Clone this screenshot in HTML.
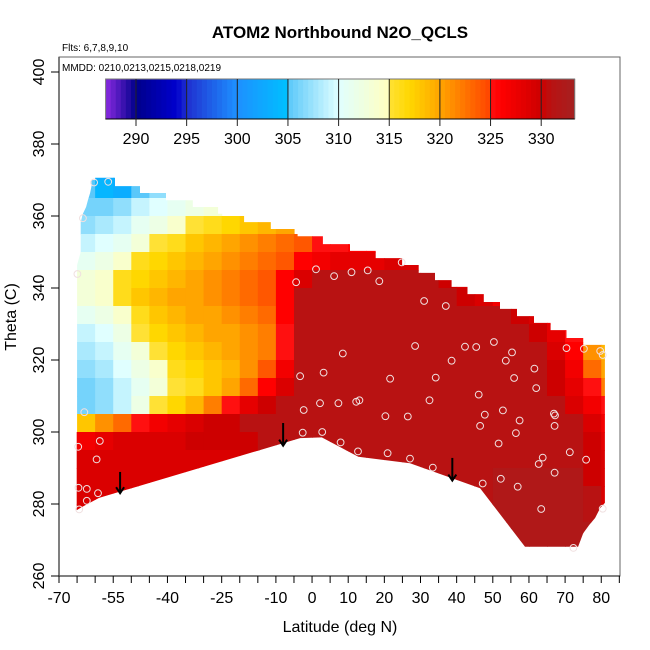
<!DOCTYPE html>
<html><head><meta charset="utf-8"><style>
html,body{margin:0;padding:0;background:#fff}
svg{display:block;font-family:"Liberation Sans",Arial,sans-serif}
</style></head><body>
<svg id="chart" width="650" height="650" viewBox="0 0 650 650">
<rect width="650" height="650" fill="#fff"/>
<text x="340" y="38" font-size="17" font-weight="bold" text-anchor="middle">ATOM2 Northbound N2O_QCLS</text>
<text x="62" y="51" font-size="10">Flts: 6,7,8,9,10</text>
<text x="62" y="71" font-size="10">MMDD: 0210,0213,0215,0218,0219</text>
<text x="340" y="632" font-size="16" text-anchor="middle">Latitude (deg N)</text>
<text transform="translate(16,317) rotate(-90)" font-size="16" text-anchor="middle">Theta (C)</text>
<defs><clipPath id="dataClip"><polygon id="clipPoly" points=""/></clipPath></defs>
<g id="cells" clip-path="url(#dataClip)"></g>
<g id="arrows"></g>
<g id="points"></g>
<g id="frame"></g>
<g id="xaxis"></g>
<g id="yaxis"></g>
<g id="colorbar"></g>
</svg>
<script>
const N = null;
const latStarts = [-70,-65,-60,-55,-50,-45,-40,-35,-30,-25,-20,-15,-10,-5,0,5,10,15,20,25,30,35,40,45,50,55,60,65,70,75,80];
const thetaCenters = [372.5,367.5,362.5,357.5,352.5,347.5,342.5,337.5,332.5,327.5,322.5,317.5,312.5,307.5,302.5,297.5,292.5,287.5,282.5,277.5,272.5,267.5];
const r372 = [N,N,303,303,N,N,N,N,N,N,N,N,N,N,N,N,N,N,N,N,N,N,N,N,N,N,N,N,N,N,N];
const r367 = [N,305,304,303,305,307,307,N,N,N,N,N,N,N,N,N,N,N,N,N,N,N,N,N,N,N,N,N,N,N,N];
const r362 = [N,306,306,307,309,310,311,312,313,N,N,N,N,N,N,N,N,N,N,N,N,N,N,N,N,N,N,N,N,N,N];
const r357 = [N,307,308,309,311,312,314,315,316,317,318,319,320,N,N,N,N,N,N,N,N,N,N,N,N,N,N,N,N,N,N];
const r352 = [N,309,310,311,313,315,316,318,319,320,321,322,323,324,325,325,326,326,N,N,N,N,N,N,N,N,N,N,N,N,N];
const r347 = [N,311,312,314,316,317,318,319,320,321,322,323,324,326,327,328,328,328,329,329,329,329,N,N,N,N,N,N,N,N,N];
const r342 = [N,313,314,316,317,318,319,320,321,322,323,324,326,329,331,331,331,331,331,331,331,330,329,328,327,N,N,N,N,N,N];
const r337 = [N,313,314,316,318,319,320,320,321,322,323,324,326,331,331,331,331,331,331,331,331,331,330,329,327,325,323,N,N,N,N];
const r332 = [N,311,312,314,316,318,319,320,320,321,322,323,326,331,331,331,331,331,331,331,331,331,331,331,331,330,329,327,324,N,N];
const r327 = [N,309,310,312,315,317,318,319,320,320,321,322,325,331,331,331,331,331,331,331,331,331,331,331,331,331,330,328,325,320,318];
const r322 = [N,308,309,311,313,315,317,318,319,320,321,322,325,331,331,331,331,331,331,331,331,331,331,331,331,331,331,329,326,321,319];
const r317 = [N,307,308,310,312,314,316,317,318,319,321,324,327,331,331,331,331,331,331,331,331,331,331,331,331,331,331,330,327,323,320];
const r312 = [N,306,307,309,311,313,315,316,318,320,323,326,329,331,331,331,331,331,331,331,331,331,331,331,331,331,331,330,328,325,322];
const r307 = [N,306,307,309,312,315,317,319,322,325,328,330,331,331,331,331,331,331,331,331,331,331,331,331,331,331,331,331,329,327,325];
const r302 = [N,318,321,323,325,327,328,329,330,330,331,331,331,331,331,331,331,331,331,331,331,331,331,331,331,331,331,331,331,329,327];
const r297 = [328,327,328,329,329,329,329,330,330,330,330,331,331,331,331,331,331,331,331,331,331,331,331,331,331,331,331,331,331,330,328];
const r292 = [329,329,329,329,329,329,329,329,329,329,330,330,331,331,331,331,331,331,331,331,331,331,331,331,331,331,331,331,331,330,329];
const r287 = [329,329,329,329,329,329,329,329,329,329,330,330,331,331,331,331,331,331,331,331,331,331,331,331,332,332,332,332,332,330,329];
const r282 = [329,329,329,329,329,329,329,329,329,329,330,330,331,331,331,331,331,331,331,331,331,331,331,331,332,332,332,332,332,331,329];
const r277 = [329,329,329,329,329,329,329,329,329,329,330,330,331,331,331,331,331,331,331,331,331,331,331,331,332,332,332,332,332,331,330];
const r272 = [N,N,N,N,N,N,N,N,N,N,N,N,N,N,N,N,N,N,N,N,N,N,N,N,332,332,332,332,332,332,331];
const r267 = [N,N,N,N,N,N,N,N,N,N,N,N,N,N,N,N,N,N,N,N,N,N,N,N,N,332,332,332,332,332,331];
const n2oRows = [r372,r367,r362,r357,r352,r347,r342,r337,r332,r327,r322,r317,r312,r307,r302,r297,r292,r287,r282,r277,r272,r267];

const topTheta = [370.6,368.3,366.4,364.4,362.5,360.6,358.3,356.4,354.4,352.2,350.3,348.3,346.4,344.2,342.2,340.3,338.3,336.1,334.2,332.2,330.3,328.3,326.1,324.2];
const topLatEnd = [-54.5,-47.6,-40.4,-33,-26,-18.8,-11.4,-4,3,10.5,17.6,24.9,29.5,34,38.6,43,47.5,52,56.7,61.4,66,70.4,75,81];
const bottomLat = [81,79.7,78.3,76.7,75,73.6,58.9,46.5,27.1,12.8,2.7,-3.3,-58.9,-63.4,-65.1];
const bottomTheta = [280.3,278.9,276.1,274.2,271.9,268.1,268.1,284.4,291.3,293.1,298.5,298.3,281.7,279.3,278.3];
const leftLat = [-65.1,-64,-64,-63.4,-62.5,-62,-61.4,-61];
const leftTheta = [346,350,358.3,360.6,362.5,364.4,366.4,368.3];

const ptLat = [1.1,6.1,10.9,15.4,18.6,-4.4,24.8,31,37,8.5,28.5,42.3,45.4,50.3,55.3,53.6,38.6,70.4,75.2,79.7,80.4,-3.3,3.2,21.6,34.2,61.5,55.9,62,46.1,32.5,-2.3,2.2,7.3,12.2,13.1,20.3,26.5,47.8,52.8,57.4,66.9,67.2,46.5,56.4,67.1,-2.6,2.8,7.9,12.7,20.9,27.1,33.4,51.6,63.8,62.7,71.3,75.8,67.1,47.2,52.2,56.9,63.4,80.4,72.3,-60.3,-56.4,-63.4,-64.9,-63,-58.7,-64.7,-59.6,-64.6,-62.3,-59.2,-62.3,-64.4];
const ptTheta = [345.2,343.3,344.4,344.9,341.9,341.6,347.1,336.4,335,321.8,323.9,323.7,323.6,325,322.1,319.8,319.8,323.3,323.1,322.5,321.4,315.5,316.5,314.8,315.1,317.6,315,312.2,310.4,308.8,306.1,308,308,308.4,308.8,304.4,304.3,304.8,306,303.2,305.1,304.6,301.7,299.7,301.7,299.8,300,297.1,294.6,294.1,292.6,290.1,296.8,292.9,291.1,294.4,292.3,288.7,285.7,287,284.8,278.6,278.7,267.8,369.3,369.5,359.4,343.9,305.5,297.5,295.9,292.4,284.5,284.2,283,280.9,278.5];

const arrowLat = [-53.1,-8,38.8];
const arrowTopTheta = [288.9,302.5,292.8];
const arrowTipTheta = [283,296.2,286.5];

const xTicks = [-70,-65,-60,-55,-50,-45,-40,-35,-30,-25,-20,-15,-10,-5,0,5,10,15,20,25,30,35,40,45,50,55,60,65,70,75,80,85];
const xLabels = [-70,-55,-40,-25,-10,0,10,20,30,40,50,60,70,80];
const yTicks = [260,280,300,320,340,360,380,400];
const cbTicks = [290,295,300,305,310,315,320,325,330];

const colorStops = [[287,[138,43,226]],[290,[0,0,139]],[294,[0,0,205]],[295,[31,47,208]],[299.9,[30,144,255]],[300,[30,144,255]],[304.9,[0,191,255]],[305,[90,200,250]],[310,[224,255,255]],[314.9,[255,255,192]],[315,[255,225,53]],[317,[255,215,0]],[320,[255,165,0]],[324.9,[255,69,0]],[325,[255,16,16]],[326,[255,0,0]],[330,[205,0,0]],[331,[184,18,18]],[333.3,[165,32,32]]];

const NS = 'http://www.w3.org/2000/svg';
function X(lat){ return 59 + (lat + 70) * 3.615; }
function Y(th){ return 576 - (th - 260) * 3.6; }
function color(v){
  if (v <= colorStops[0][0]) return 'rgb(' + colorStops[0][1].join(',') + ')';
  for (let i = 1; i < colorStops.length; i++) {
    const a = colorStops[i-1], b = colorStops[i];
    if (v <= b[0]) {
      const t = (b[0] - a[0]) === 0 ? 1 : (v - a[0]) / (b[0] - a[0]);
      const c = a[1].map((q, k) => Math.round(q + (b[1][k] - q) * t));
      return 'rgb(' + c.join(',') + ')';
    }
  }
  return 'rgb(' + colorStops[colorStops.length-1][1].join(',') + ')';
}
function mk(tag, attrs, parent){
  const e = document.createElementNS(NS, tag);
  for (const k in attrs) e.setAttribute(k, attrs[k]);
  parent.appendChild(e);
  return e;
}

const pts = [[X(-61), Y(topTheta[0])]];
for (let k = 0; k < topTheta.length; k++) {
  pts.push([X(topLatEnd[k]), Y(topTheta[k])]);
  if (k + 1 < topTheta.length) pts.push([X(topLatEnd[k]), Y(topTheta[k+1])]);
}
for (let k = 0; k < bottomLat.length; k++) pts.push([X(bottomLat[k]), Y(bottomTheta[k])]);
for (let k = 0; k < leftLat.length; k++) pts.push([X(leftLat[k]), Y(leftTheta[k])]);
document.getElementById('clipPoly').setAttribute('points', pts.map(p => p[0].toFixed(1) + ',' + p[1].toFixed(1)).join(' '));

const cells = document.getElementById('cells');
n2oRows.forEach((row, i) => {
  const th = thetaCenters[i];
  row.forEach((v, j) => {
    if (v === null) return;
    const x0 = X(latStarts[j]), x1 = X(latStarts[j] + 5);
    const y0 = Y(th + 2.5), y1 = Y(th - 2.5);
    const r = mk('rect', {x: x0.toFixed(2), y: y0.toFixed(2), width: (x1 - x0 + 0.6).toFixed(2), height: (y1 - y0 + 0.6).toFixed(2), fill: color(v)}, cells);
    
    
  });
});

const pg = document.getElementById('points');
ptLat.forEach((lat, i) => {
  const c = mk('circle', {cx: X(lat).toFixed(1), cy: Y(ptTheta[i]).toFixed(1), r: 3.4, fill: 'none', stroke: '#f0e0e0', 'stroke-width': 1}, pg);
  
  
});

const ag = document.getElementById('arrows');
arrowLat.forEach((lat, i) => {
  const x = X(lat), y0 = Y(arrowTopTheta[i]), y1 = Y(arrowTipTheta[i]);
  const g = mk('g', {}, ag);
  
  
  mk('line', {x1: x, y1: y0, x2: x, y2: y1, stroke: '#000', 'stroke-width': 2}, g);
  mk('polyline', {points: (x-4) + ',' + (y1-6) + ' ' + x + ',' + y1 + ' ' + (x+4) + ',' + (y1-6), fill: 'none', stroke: '#000', 'stroke-width': 2}, g);
});

const fr = document.getElementById('frame');
const box = mk('rect', {x: 59, y: 57, width: 561, height: 519, fill: 'none', stroke: '#666', 'stroke-width': 1}, fr);



const xa = document.getElementById('xaxis');
mk('line', {x1: 59, y1: 576, x2: 620, y2: 576, stroke: '#000', 'stroke-width': 1}, xa);
xTicks.forEach(t => {
  const tk = mk('line', {x1: X(t), y1: 576, x2: X(t), y2: 583, stroke: '#000', 'stroke-width': 1}, xa);
  
  
});
xLabels.forEach(t => {
  const tx = mk('text', {x: X(t), y: 603, 'font-size': 16, 'text-anchor': 'middle'}, xa);
  tx.textContent = t;
  
  
});

const ya = document.getElementById('yaxis');
mk('line', {x1: 59, y1: 57, x2: 59, y2: 576, stroke: '#555', 'stroke-width': 1.5}, ya);
yTicks.forEach(t => {
  const tk = mk('line', {x1: 51, y1: Y(t), x2: 59, y2: Y(t), stroke: '#000', 'stroke-width': 1}, ya);
  
  
  const tx = mk('text', {transform: 'translate(44,' + Y(t) + ') rotate(-90)', 'font-size': 16, 'text-anchor': 'middle'}, ya);
  tx.textContent = t;
  
  
});

const cb = document.getElementById('colorbar');
function CX(v){ return 136 + (v - 290) * 10.13; }
const cbMin = 287, cbMax = 333.3;
for (let v = cbMin; v < cbMax; v += 0.5) {
  const x0 = CX(v), x1 = CX(Math.min(v + 0.5, cbMax));
  const r = mk('rect', {x: x0.toFixed(2), y: 79, width: (x1 - x0 + 0.5).toFixed(2), height: 40, fill: color(v + 0.25)}, cb);
  
  
}
mk('rect', {x: CX(cbMin), y: 79, width: CX(cbMax) - CX(cbMin), height: 40, fill: 'none', stroke: '#777', 'stroke-width': 1}, cb);
mk('line', {x1: CX(cbMin), y1: 119, x2: CX(cbMax), y2: 119, stroke: '#000', 'stroke-width': 1}, cb);
cbTicks.forEach(t => {
  const l = mk('line', {x1: CX(t), y1: 79, x2: CX(t), y2: 126, stroke: '#222', 'stroke-width': 1}, cb);
  
  
  const tx = mk('text', {x: CX(t), y: 144, 'font-size': 16, 'text-anchor': 'middle'}, cb);
  tx.textContent = t;
  
  
});
</script>
</body></html>
